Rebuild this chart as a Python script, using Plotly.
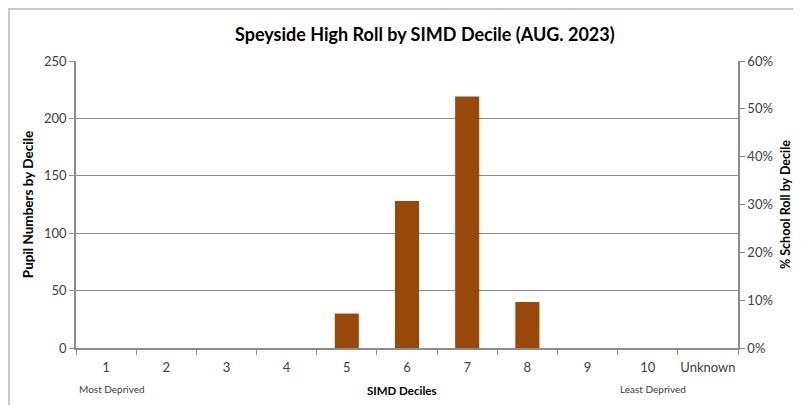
import plotly.graph_objects as go

categories = ["1", "2", "3", "4", "5", "6", "7", "8", "9", "10", "Unknown"]
pupils = [0, 0, 0, 0, 30, 128, 219, 40, 0, 0, 0]
total = sum(pupils)
percent = [p / total for p in pupils]

OFF = 8  # page body margin
W, H = 801 - OFF, 405 - OFF
L, T = 76 - OFF, 61 - OFF
pw, ph = 662, 287
R = W - L - pw
B = H - T - ph

def px(x):
    return (x - OFF - L) / pw

def py(y):
    return (H - B - (y - OFF)) / ph

font = "Lato, Open Sans, sans-serif"
axis_color = "#8c8c8c"

fig = go.Figure()
fig.add_trace(go.Bar(x=categories, y=pupils, marker=dict(color="#984807", line=dict(width=0)),
                     showlegend=False, hoverinfo="x+y"))
fig.add_trace(go.Scatter(x=categories, y=percent, yaxis="y2", mode="none", showlegend=False,
                         hoverinfo="skip"))

fig.update_layout(
    width=W, height=H,
    margin=dict(l=L, r=R, t=T, b=B, autoexpand=False),
    paper_bgcolor="white", plot_bgcolor="white",
    font=dict(family=font, size=13, color="#404040"),
    bargap=0.6,
    title=dict(text="<b>Speyside High Roll by SIMD Decile (AUG. 2023)</b>", x=px(424), xanchor="center",
               y=1 - (35 - OFF) / H, yanchor="middle", font=dict(size=18, color="#000000", family=font)),
    xaxis=dict(type="category", showline=True, linecolor=axis_color, linewidth=1.5,
               ticks="outside", tickson="boundaries", ticklen=5, tickcolor=axis_color,
               showgrid=False, tickangle=0, automargin=False, ticklabelstandoff=7,
               tickfont=dict(size=13, color="#404040")),
    yaxis=dict(range=[0, 250], dtick=50, showline=True, linecolor=axis_color, linewidth=1.5,
               ticks="outside", ticklen=5, tickcolor=axis_color, automargin=False,
               showgrid=True, gridcolor="#8c8c8c", gridwidth=1.2, zeroline=False,
               tickfont=dict(size=13, color="#404040"),
               title=dict(text="<b>Pupil Numbers by Decile</b>", font=dict(size=13.5, color="#000000"), standoff=7)),
    yaxis2=dict(range=[0, 0.6], dtick=0.1, tickformat=".0%", overlaying="y", side="right",
                showline=True, linecolor=axis_color, linewidth=1.5, ticks="outside", ticklen=5,
                tickcolor=axis_color, showgrid=False, zeroline=False, automargin=False,
                tickfont=dict(size=13, color="#404040"),
                title=dict(text="<b>% School Roll by Decile</b>", font=dict(size=12.5, color="#000000"), standoff=9)),
)

fig.add_annotation(text="Most Deprived", xref="paper", yref="paper", x=px(112), y=py(389),
                   showarrow=False, font=dict(size=10, color="#404040"), xanchor="center", yanchor="middle")
fig.add_annotation(text="Least Deprived", xref="paper", yref="paper", x=px(653), y=py(389),
                   showarrow=False, font=dict(size=10, color="#404040"), xanchor="center", yanchor="middle")
fig.add_annotation(text="<b>SIMD Deciles</b>", xref="paper", yref="paper", x=px(401), y=py(390),
                   showarrow=False, font=dict(size=11.5, color="#000000"), xanchor="center", yanchor="middle")

fig.add_shape(type="rect", xref="paper", yref="paper", x0=px(9), x1=px(830), y0=py(440), y1=py(9),
              line=dict(color="#c8c8c8", width=2), fillcolor="rgba(0,0,0,0)", layer="below")

fig.write_html("out.html")
